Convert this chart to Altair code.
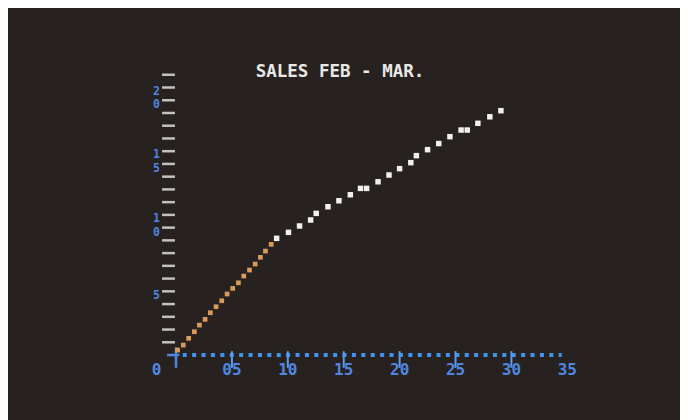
import altair as alt
import pandas as pd

# ---- data ----
orange_x = [0.14, 0.65, 1.13, 1.64, 2.09, 2.6, 3.07, 3.58, 4.09, 4.57, 5.07, 5.58, 6.06, 6.57, 7.08, 7.55, 8.0, 8.51]
orange_y = [0.39, 0.78, 1.31, 1.83, 2.35, 2.8, 3.32, 3.79, 4.26, 4.79, 5.23, 5.67, 6.2, 6.67, 7.14, 7.67, 8.16, 8.69]

white_x = [9.0, 10.06, 11.05, 12.04, 12.54, 13.59, 14.57, 15.59, 16.5, 17.05, 18.07, 19.05, 20.0,
           21.0, 21.5, 22.5, 23.5, 24.5, 25.5, 26.05, 27.0, 28.07, 29.06]
white_y = [9.16, 9.63, 10.13, 10.6, 11.12, 11.64, 12.11, 12.58, 13.08, 13.08, 13.6, 14.13, 14.63,
           15.1, 15.65, 16.12, 16.6, 17.14, 17.66, 17.66, 18.19, 18.7, 19.18]

x_ticks = [5, 10, 15, 20, 25, 30]
x_label_pos = [-1.75, 5, 10, 15, 20, 25, 30, 35]
x_label_text = ["0", "05", "10", "15", "20", "25", "30", "35"]
y_minor = list(range(1, 23))
y_label_pos = [5, 10, 15, 20]
y_label_text = ["5", "10", "15", "20"]
title_text = "SALES FEB - MAR."

# ---- styling ----
BG = "#27221f"
BLUE = "#4f86e0"
AXBLUE = "#3f93ec"
FONT = "DejaVu Sans Mono"

xs = alt.Scale(domain=[-15.03, 45.08], nice=False, zero=False)
ys = alt.Scale(domain=[-5.10, 27.24], nice=False, zero=False)

df_o = pd.DataFrame({"x": orange_x, "y": orange_y})
df_w = pd.DataFrame({"x": white_x, "y": white_y})
df_xt = pd.DataFrame({"x": x_ticks})
df_xl = pd.DataFrame({"x": x_label_pos, "t": x_label_text})
df_ym = pd.DataFrame({"y": y_minor})
# y labels are drawn vertically stacked: leading digit above, last digit beside the tick
df_yl_bot = pd.DataFrame({"y": y_label_pos, "t": [s[-1] for s in y_label_text]})
df_yl_top = pd.DataFrame({"y": y_label_pos, "t": [s[:-1] for s in y_label_text]})


def X(f):
    return alt.X(f, type="quantitative", scale=xs, axis=None)


def Y(f):
    return alt.Y(f, type="quantitative", scale=ys, axis=None)


def XD(v):
    return alt.X(datum=v, scale=xs, axis=None)


def YD(v):
    return alt.Y(datum=v, scale=ys, axis=None)


base_rule = alt.Chart(pd.DataFrame({"k": [0]}))

# x-axis dotted baseline
x_base = base_rule.mark_rule(color=AXBLUE, strokeWidth=4, strokeDash=[4, 5.4]).encode(
    x=XD(0.6), x2=alt.X2(datum=34.5), y=YD(0)
)
# origin cross
cross_v = base_rule.mark_rule(color=BLUE, strokeWidth=2.5).encode(
    x=XD(0), y=YD(-1.0), y2=alt.Y2(datum=0.6)
)
cross_h = base_rule.mark_rule(color=BLUE, strokeWidth=2.5).encode(
    x=XD(-0.8), x2=alt.X2(datum=0.3), y=YD(0)
)
# x major tick bars
x_tick_bars = alt.Chart(df_xt).mark_rule(color="#5a9cf0", strokeWidth=2).encode(
    x=X("x"), y=YD(0.3), y2=alt.Y2(datum=-1.0)
)
x_labels = alt.Chart(df_xl).mark_text(
    font=FONT, fontSize=16, fontWeight="bold", color=BLUE, align="center", baseline="middle"
).encode(x=X("x"), y=YD(-1.15), text="t:N")

# y minor dashes
y_dashes = alt.Chart(df_ym).mark_rule(color="#c4c2bc", strokeWidth=2.5).encode(
    y=Y("y"), x=XD(-1.25), x2=alt.X2(datum=-0.1)
)
ylab_style = dict(font=FONT, fontSize=11.5, fontWeight="bold", color=BLUE, align="center", baseline="middle")
y_labels_bot = alt.Chart(df_yl_bot).mark_text(dy=5, **ylab_style).encode(
    y=Y("y"), x=XD(-1.75), text="t:N"
)
y_labels_top = alt.Chart(df_yl_top).mark_text(dy=-8.5, **ylab_style).encode(
    y=Y("y"), x=XD(-1.75), text="t:N"
)

orange_pts = alt.Chart(df_o).mark_square(size=22, color="#d99a5c", opacity=1).encode(x=X("x"), y=Y("y"))
white_pts = alt.Chart(df_w).mark_square(size=30, color="#f2f0ea", opacity=1).encode(x=X("x"), y=Y("y"))

chart = alt.layer(
    x_base, x_tick_bars, cross_h, cross_v, x_labels, y_dashes, y_labels_bot, y_labels_top,
    orange_pts, white_pts
).properties(
    width=672,
    height=412,
    padding=0,
    background=BG,
    autosize=alt.AutoSizeParams(type="none"),
    title=alt.TitleParams(
        title_text, font=FONT, fontSize=17.5, fontWeight="bold", color="#e8e8e6",
        anchor="middle", baseline="middle", offset=0, dy=81, dx=-4
    ),
).configure_view(stroke=None)

chart.save("out.html", embed_options={"renderer": "svg", "actions": False})
